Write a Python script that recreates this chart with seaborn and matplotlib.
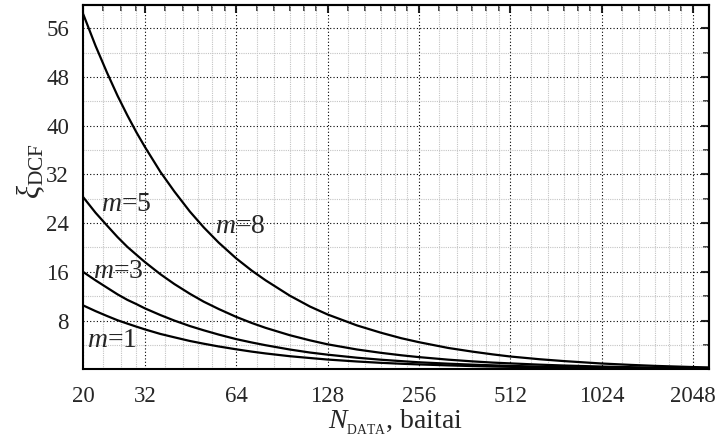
import matplotlib
matplotlib.use("Agg")
import matplotlib.pyplot as plt
import numpy as np
import pandas as pd
import seaborn as sns
from matplotlib.ticker import FixedLocator, FixedFormatter, NullFormatter

# ---- data ----
N_data = [20, 22, 24, 26, 28, 30, 32, 36, 40, 45, 50, 56, 64, 72, 80, 96, 112,
          128, 160, 192, 224, 256, 320, 384, 448, 512, 640, 768, 1024, 1280,
          1536, 2048, 2300]
xi_m1 = [10.5, 9.55, 8.75, 8.05, 7.5, 7.0, 6.55, 5.8, 5.25, 4.65, 4.2, 3.75,
         3.28, 2.9, 2.6, 2.15, 1.85, 1.6, 1.28, 1.06, 0.91, 0.8, 0.64, 0.53,
         0.45, 0.4, 0.32, 0.26, 0.19, 0.15, 0.12, 0.09, 0.08]
xi_m3 = [16.0, 14.6, 13.4, 12.3, 11.4, 10.7, 10.0, 8.9, 8.0, 7.1, 6.4, 5.7,
         4.95, 4.4, 3.95, 3.25, 2.75, 2.4, 1.9, 1.57, 1.34, 1.15, 0.92, 0.76,
         0.65, 0.56, 0.44, 0.36, 0.26, 0.2, 0.16, 0.11, 0.09]
xi_m5 = [28.3, 25.7, 23.6, 21.7, 20.1, 18.8, 17.6, 15.6, 14.0, 12.4, 11.1, 9.9,
         8.6, 7.6, 6.8, 5.6, 4.75, 4.1, 3.25, 2.7, 2.3, 2.0, 1.58, 1.3, 1.1,
         0.97, 0.76, 0.62, 0.45, 0.35, 0.28, 0.2, 0.17]
xi_m8 = [58.4, 53.1, 48.7, 44.9, 41.7, 38.9, 36.5, 32.4, 29.2, 25.9, 23.3, 20.8,
         18.2, 16.2, 14.6, 12.1, 10.3, 9.0, 7.2, 6.0, 5.1, 4.45, 3.5, 2.9, 2.45,
         2.1, 1.65, 1.35, 0.95, 0.72, 0.56, 0.37, 0.31]
m_values = ["1", "3", "5", "8"]

x_major = [20, 32, 64, 128, 256, 512, 1024, 2048]
x_labels = ["20", "32", "64", "128", "256", "512", "1024", "2048"]
y_major = [8, 16, 24, 32, 40, 48, 56]
y_labels = ["8", "16", "24", "32", "40", "48", "56"]

# ---- style ----
sns.set_style("white")
plt.rcParams["font.family"] = ["Liberation Serif", "DejaVu Serif"]
plt.rcParams["mathtext.fontset"] = "custom"
plt.rcParams["mathtext.rm"] = "Liberation Serif"
plt.rcParams["mathtext.it"] = "Liberation Serif:italic"
plt.rcParams["mathtext.bf"] = "Liberation Serif:bold"

df = pd.DataFrame({
    "N": N_data * 4,
    "xi": xi_m1 + xi_m3 + xi_m5 + xi_m8,
    "m": sum([[m] * len(N_data) for m in m_values], []),
})

fig = plt.figure(figsize=(7.16, 4.42), dpi=100)
ax = fig.add_axes([0.1159, 0.1645, 0.8741, 0.8242])

sns.lineplot(data=df, x="N", y="xi", hue="m", palette=["black"] * 4,
             legend=False, ax=ax, linewidth=1.6, errorbar=None)

ax.set_xscale("log", base=2)
ax.set_xlim(20, 2312)
ax.set_ylim(0, 59.8)

x_minor = [20 * (1 + j / 6) for j in (1, 2, 3)]
for b in [32, 64, 128, 256, 512, 1024]:
    x_minor += [b * (1 + j / 6) for j in range(1, 6)]
y_minor = [4 + 8 * k for k in range(8)]

ax.xaxis.set_major_locator(FixedLocator(x_major))
ax.xaxis.set_major_formatter(FixedFormatter(x_labels))
ax.xaxis.set_minor_locator(FixedLocator(x_minor))
ax.xaxis.set_minor_formatter(NullFormatter())
ax.yaxis.set_major_locator(FixedLocator(y_major))
ax.yaxis.set_major_formatter(FixedFormatter(y_labels))
ax.yaxis.set_minor_locator(FixedLocator(y_minor))
ax.yaxis.set_minor_formatter(NullFormatter())

ax.set_axisbelow(True)
ax.grid(which="minor", color="#c4c4c4", linestyle=(0, (1, 1)), linewidth=0.8)
ax.grid(which="major", color="black", linestyle=(0, (1, 2)), linewidth=0.8)

ax.tick_params(which="major", direction="out", length=7, width=1.5,
               labelsize=16.5, color="black")
ax.tick_params(axis="x", which="major", pad=5)
ax.tick_params(axis="y", which="major", pad=3)
ax.tick_params(which="minor", direction="out", length=4, width=1.2,
               color="black")
for s in ax.spines.values():
    s.set_visible(True)
    s.set_linewidth(1.5)
    s.set_color("black")

secx = ax.secondary_xaxis("top")
secx.xaxis.set_major_locator(FixedLocator(x_major))
secx.xaxis.set_minor_locator(FixedLocator(x_minor))
secx.xaxis.set_major_formatter(NullFormatter())
secx.xaxis.set_minor_formatter(NullFormatter())
secx.tick_params(which="major", direction="in", length=6, width=1.5)
secx.tick_params(which="minor", direction="in", length=4, width=1.2)
secx.spines["top"].set_linewidth(1.5)

secy = ax.secondary_yaxis("right")
secy.yaxis.set_major_locator(FixedLocator(y_major))
secy.yaxis.set_minor_locator(FixedLocator(y_minor))
secy.yaxis.set_major_formatter(NullFormatter())
secy.yaxis.set_minor_formatter(NullFormatter())
secy.tick_params(which="major", direction="in", length=6, width=1.5)
secy.tick_params(which="minor", direction="in", length=4, width=1.2)
secy.spines["right"].set_linewidth(1.5)

ax.set_xlabel(r"$N_{{}_{\mathrm{DATA}}}$, baitai", fontsize=20, labelpad=0)
ax.set_ylabel(r"$\xi_{\mathrm{DCF}}$", fontsize=22)
ax.yaxis.set_label_coords(-0.058, 0.545)

ax.text(66.2, 23.4, r"$m$=8", ha="center", va="center", fontsize=20)
ax.text(27.7, 27.0, r"$m$=5", ha="center", va="center", fontsize=20)
ax.text(26.1, 16.0, r"$m$=3", ha="center", va="center", fontsize=20)
ax.text(25.0, 4.66, r"$m$=1", ha="center", va="center", fontsize=20)

fig.savefig("out.png", dpi=100)
